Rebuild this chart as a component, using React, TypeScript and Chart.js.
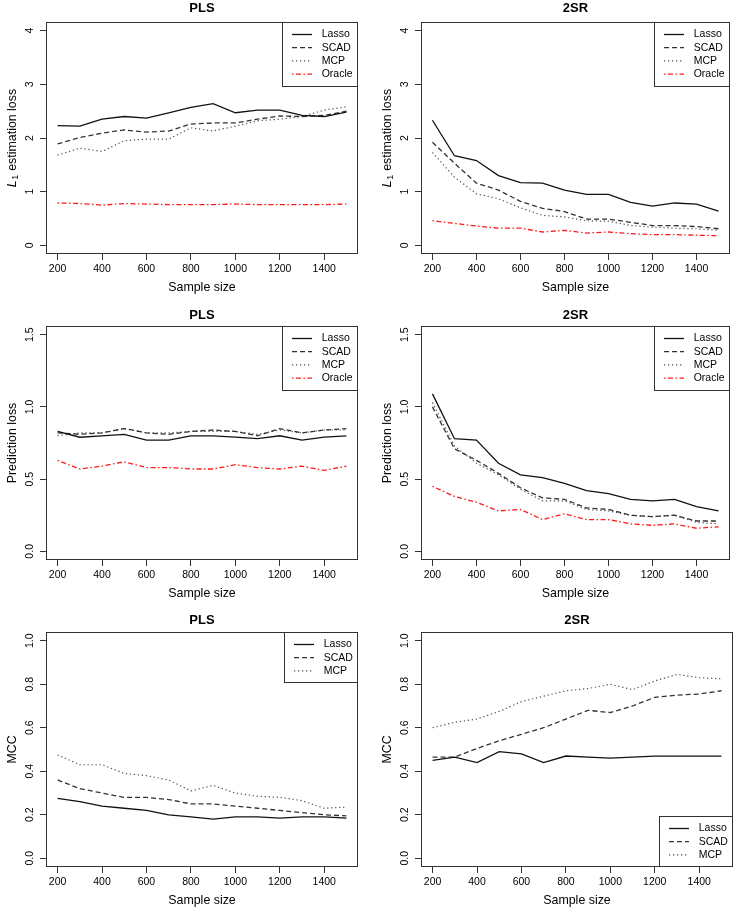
import React, { useEffect, useRef } from "react";
import { Chart, registerables } from "chart.js";
Chart.register(...registerables);

const FONT = "'Liberation Sans', Arial, Helvetica, sans-serif";

// ---------- data ----------
const sampleSizes = [200, 300, 400, 500, 600, 700, 800, 900, 1000, 1100, 1200, 1300, 1400, 1500];
const xLim = [200, 1500];
const xTickValues = [200, 400, 600, 800, 1000, 1200, 1400];
const xTickLabels = ["200", "400", "600", "800", "1000", "1200", "1400"];

const l1Lim = [0, 4];
const l1TickValues = [0, 1, 2, 3, 4];
const l1TickLabels = ["0", "1", "2", "3", "4"];
const predLim = [0, 1.5];
const predTickValues = [0, 0.5, 1.0, 1.5];
const predTickLabels = ["0.0", "0.5", "1.0", "1.5"];
const mccLim = [0, 1];
const mccTickValues = [0, 0.2, 0.4, 0.6, 0.8, 1.0];
const mccTickLabels = ["0.0", "0.2", "0.4", "0.6", "0.8", "1.0"];

const methodNames = ["Lasso", "SCAD", "MCP", "Oracle"];

// PLS, L1 estimation loss
const plsL1Lasso = [2.23, 2.22, 2.35, 2.40, 2.37, 2.47, 2.57, 2.64, 2.47, 2.52, 2.52, 2.42, 2.40, 2.48];
const plsL1Scad = [1.89, 2.01, 2.09, 2.15, 2.11, 2.13, 2.26, 2.28, 2.28, 2.35, 2.41, 2.40, 2.42, 2.50];
const plsL1Mcp = [1.68, 1.81, 1.75, 1.95, 1.98, 1.98, 2.19, 2.13, 2.22, 2.32, 2.35, 2.40, 2.52, 2.58];
const plsL1Oracle = [0.79, 0.78, 0.75, 0.78, 0.77, 0.76, 0.76, 0.76, 0.77, 0.76, 0.76, 0.76, 0.76, 0.77];

// 2SR, L1 estimation loss
const tsrL1Lasso = [2.33, 1.67, 1.58, 1.30, 1.17, 1.16, 1.03, 0.95, 0.95, 0.80, 0.73, 0.79, 0.77, 0.64];
const tsrL1Scad = [1.92, 1.53, 1.16, 1.03, 0.82, 0.69, 0.63, 0.49, 0.49, 0.43, 0.37, 0.37, 0.35, 0.31];
const tsrL1Mcp = [1.73, 1.27, 0.96, 0.87, 0.70, 0.56, 0.53, 0.46, 0.45, 0.37, 0.34, 0.32, 0.31, 0.28];
const tsrL1Oracle = [0.46, 0.41, 0.36, 0.32, 0.32, 0.25, 0.28, 0.23, 0.25, 0.22, 0.20, 0.20, 0.19, 0.18];

// PLS, prediction loss
const plsPredLasso = [0.83, 0.79, 0.80, 0.81, 0.77, 0.77, 0.80, 0.80, 0.79, 0.78, 0.80, 0.77, 0.79, 0.80];
const plsPredScad = [0.82, 0.81, 0.82, 0.85, 0.82, 0.81, 0.83, 0.84, 0.83, 0.80, 0.85, 0.82, 0.84, 0.85];
const plsPredMcp = [0.80, 0.82, 0.82, 0.85, 0.82, 0.82, 0.83, 0.83, 0.83, 0.81, 0.84, 0.82, 0.84, 0.84];
const plsPredOracle = [0.63, 0.57, 0.59, 0.62, 0.58, 0.58, 0.57, 0.57, 0.60, 0.58, 0.57, 0.59, 0.56, 0.59];

// 2SR, prediction loss
const tsrPredLasso = [1.09, 0.78, 0.77, 0.61, 0.53, 0.51, 0.47, 0.42, 0.40, 0.36, 0.35, 0.36, 0.31, 0.28];
const tsrPredScad = [1.00, 0.71, 0.63, 0.54, 0.44, 0.37, 0.36, 0.30, 0.29, 0.25, 0.24, 0.25, 0.21, 0.21];
const tsrPredMcp = [1.03, 0.73, 0.61, 0.53, 0.43, 0.35, 0.35, 0.29, 0.28, 0.25, 0.24, 0.25, 0.20, 0.19];
const tsrPredOracle = [0.45, 0.38, 0.34, 0.28, 0.29, 0.22, 0.26, 0.22, 0.22, 0.19, 0.18, 0.19, 0.16, 0.17];

// PLS, MCC
const plsMccLasso = [0.275, 0.26, 0.24, 0.23, 0.22, 0.20, 0.19, 0.18, 0.19, 0.19, 0.185, 0.19, 0.19, 0.185];
const plsMccScad = [0.36, 0.32, 0.30, 0.28, 0.28, 0.27, 0.25, 0.25, 0.24, 0.23, 0.22, 0.21, 0.20, 0.195];
const plsMccMcp = [0.475, 0.43, 0.43, 0.39, 0.38, 0.36, 0.31, 0.335, 0.30, 0.285, 0.28, 0.265, 0.23, 0.235];

// 2SR, MCC
const tsrMccLasso = [0.45, 0.465, 0.44, 0.49, 0.48, 0.44, 0.47, 0.465, 0.46, 0.465, 0.47, 0.47, 0.47, 0.47];
const tsrMccScad = [0.465, 0.465, 0.505, 0.54, 0.57, 0.60, 0.64, 0.68, 0.67, 0.70, 0.74, 0.75, 0.755, 0.77];
const tsrMccMcp = [0.60, 0.625, 0.64, 0.675, 0.72, 0.745, 0.77, 0.78, 0.80, 0.775, 0.815, 0.845, 0.83, 0.825];

// ---------- styles ----------
const seriesStyles = [
  { color: "#111111", dash: [] as number[], width: 1.3 },
  { color: "#333333", dash: [5, 3], width: 1.3 },
  { color: "#555555", dash: [1.3, 2.7], width: 1.2 },
  { color: "#ff1a1a", dash: [1.5, 2.5, 5, 2.5], width: 1.3 },
];

// ---------- layout geometry ----------
const colGeom = [
  { x: 0, w: 368, boxL: 46, boxR: 358 },
  { x: 368, w: 369, boxL: 421, boxR: 730 },
];
const rowGeom = [
  { y: 0, h: 300, boxT: 22, boxB: 254, titleY: 8.5 },
  { y: 300, h: 306, boxT: 326, boxB: 560, titleY: 315 },
  { y: 600, h: 309, boxT: 632, boxB: 867, titleY: 620 },
];

type PanelCfg = {
  key: string;
  title: string;
  yTitle: string;
  richL1: boolean;
  lim: number[];
  tickValues: number[];
  tickLabels: string[];
  series: number[][];
  legendPos: "topright" | "bottomright";
  col: number;
  row: number;
  boxROverride?: number;
};

const panels: PanelCfg[] = [
  { key: "a", title: "PLS", yTitle: "L1 estimation loss", richL1: true, lim: l1Lim, tickValues: l1TickValues, tickLabels: l1TickLabels,
    series: [plsL1Lasso, plsL1Scad, plsL1Mcp, plsL1Oracle], legendPos: "topright", col: 0, row: 0 },
  { key: "b", title: "2SR", yTitle: "L1 estimation loss", richL1: true, lim: l1Lim, tickValues: l1TickValues, tickLabels: l1TickLabels,
    series: [tsrL1Lasso, tsrL1Scad, tsrL1Mcp, tsrL1Oracle], legendPos: "topright", col: 1, row: 0 },
  { key: "c", title: "PLS", yTitle: "Prediction loss", richL1: false, lim: predLim, tickValues: predTickValues, tickLabels: predTickLabels,
    series: [plsPredLasso, plsPredScad, plsPredMcp, plsPredOracle], legendPos: "topright", col: 0, row: 1 },
  { key: "d", title: "2SR", yTitle: "Prediction loss", richL1: false, lim: predLim, tickValues: predTickValues, tickLabels: predTickLabels,
    series: [tsrPredLasso, tsrPredScad, tsrPredMcp, tsrPredOracle], legendPos: "topright", col: 1, row: 1 },
  { key: "e", title: "PLS", yTitle: "MCC", richL1: false, lim: mccLim, tickValues: mccTickValues, tickLabels: mccTickLabels,
    series: [plsMccLasso, plsMccScad, plsMccMcp], legendPos: "topright", col: 0, row: 2 },
  { key: "f", title: "2SR", yTitle: "MCC", richL1: false, lim: mccLim, tickValues: mccTickValues, tickLabels: mccTickLabels,
    series: [tsrMccLasso, tsrMccScad, tsrMccMcp], legendPos: "bottomright", col: 1, row: 2, boxROverride: 733 },
];

const TICK_SIZE = 10.5;
const LAB_SIZE = 12.4;
const TICK_LEN = 6;

function extend(lim: number[]) {
  const d = (lim[1] - lim[0]) * 0.04;
  return [lim[0] - d, lim[1] + d];
}

function labelFor(values: number[], labels: string[], v: number) {
  for (let i = 0; i < values.length; i++) if (Math.abs(values[i] - v) < 1e-9) return labels[i];
  return "";
}

const rPlugin = {
  id: "rdecor",
  afterDraw(chart: any, _args: any, o: any) {
    const { ctx, chartArea } = chart;
    const { left, top, right, bottom } = chartArea;
    const L = Math.round(left), T = Math.round(top), R = Math.round(right), B = Math.round(bottom);

    // plot box
    ctx.save();
    ctx.strokeStyle = "#333";
    ctx.lineWidth = 1;
    ctx.setLineDash([]);
    ctx.strokeRect(L + 0.5, T + 0.5, R - L - 1, B - T - 1);
    ctx.restore();

    // main title
    ctx.save();
    ctx.fillStyle = "#000";
    ctx.font = `bold 13px ${FONT}`;
    ctx.textAlign = "center";
    ctx.textBaseline = "middle";
    ctx.fillText(o.title, (left + right) / 2, o.titleY);
    ctx.restore();

    // rich y title: italic L with subscript 1
    if (o.richL1) {
      ctx.save();
      const main = `${LAB_SIZE}px ${FONT}`;
      const ital = `italic ${LAB_SIZE}px ${FONT}`;
      const sub = `9px ${FONT}`;
      const rest = o.yTitle.slice(2);
      ctx.font = ital;
      const wL = ctx.measureText("L").width;
      ctx.font = sub;
      const w1 = ctx.measureText("1").width;
      ctx.font = main;
      const wr = ctx.measureText(rest).width;
      const total = wL + w1 + 1 + wr;
      ctx.translate(o.yTitleX, (top + bottom) / 2);
      ctx.rotate(-Math.PI / 2);
      ctx.fillStyle = "#000";
      ctx.textAlign = "left";
      ctx.textBaseline = "middle";
      let x = -total / 2;
      ctx.font = ital;
      ctx.fillText("L", x, 0);
      x += wL + 0.5;
      ctx.font = sub;
      ctx.fillText("1", x, 3);
      x += w1 + 0.5;
      ctx.font = main;
      ctx.fillText(rest, x, 0);
      ctx.restore();
    }

    // legend
    ctx.save();
    const items = o.legendItems as { label: string; color: string; dash: number[]; width: number }[];
    ctx.font = `${TICK_SIZE}px ${FONT}`;
    const maxW = Math.max(...items.map((it) => ctx.measureText(it.label).width));
    const w = Math.round(10 + 20 + 9.7 + maxW + 5.4);
    const h = Math.round(2 * 5.9 + items.length * 13.2);
    const lx = R - w;
    const ly = o.legendPos === "topright" ? T : B - h;
    ctx.fillStyle = "#fff";
    ctx.fillRect(lx, ly, w, h);
    ctx.strokeStyle = "#333";
    ctx.lineWidth = 1;
    ctx.setLineDash([]);
    ctx.strokeRect(lx + 0.5, ly + 0.5, w - 1, h - 1);
    items.forEach((it, i) => {
      const cy = ly + 5.9 + 6.6 + i * 13.2;
      ctx.strokeStyle = it.color;
      ctx.lineWidth = it.width;
      ctx.setLineDash(it.dash);
      ctx.beginPath();
      ctx.moveTo(lx + 10, cy);
      ctx.lineTo(lx + 30, cy);
      ctx.stroke();
      ctx.fillStyle = "#000";
      ctx.textAlign = "left";
      ctx.textBaseline = "middle";
      ctx.fillText(it.label, lx + 39.7, cy);
    });
    ctx.restore();
  },
};

function Panel({ cfg }: { cfg: PanelCfg }) {
  const ref = useRef<HTMLCanvasElement>(null);
  const col = colGeom[cfg.col];
  const row = rowGeom[cfg.row];
  const boxR = cfg.boxROverride ?? col.boxR;

  useEffect(() => {
    const canvas = ref.current!;
    const m = document.createElement("canvas").getContext("2d")!;
    m.font = `${TICK_SIZE}px ${FONT}`;
    const widest = Math.max(...cfg.tickLabels.map((t) => m.measureText(t).width));
    const yPad = 15.5 - TICK_LEN - widest / 2;
    const [xMin, xMax] = extend(xLim);
    const [yMin, yMax] = extend(cfg.lim);
    const xAxisH = row.y + row.h - row.boxB;
    const xTitlePadBottom = xAxisH - 33.3 - (LAB_SIZE * 1.2) / 2;
    const yTitleCenter = col.boxL - 33 - col.x;
    const yTitlePadTop = yTitleCenter - (LAB_SIZE * 1.2) / 2;

    const datasets = cfg.series.map((vals, i) => ({
      label: methodNames[i],
      data: sampleSizes.map((x, j) => ({ x, y: vals[j] })),
      borderColor: seriesStyles[i].color,
      backgroundColor: seriesStyles[i].color,
      borderDash: seriesStyles[i].dash,
      borderWidth: seriesStyles[i].width,
      pointRadius: 0,
      tension: 0,
      fill: false,
    }));

    const chart = new Chart(canvas, {
      type: "line",
      data: { datasets },
      plugins: [rPlugin as any],
      options: {
        responsive: false,
        animation: false,
        devicePixelRatio: 1,
        layout: {
          padding: { left: 0, top: row.boxT - row.y, right: col.x + col.w - boxR, bottom: 0 },
        },
        plugins: {
          legend: { display: false },
          title: { display: false },
          tooltip: { enabled: false },
          rdecor: {
            title: cfg.title,
            titleY: row.titleY - row.y,
            richL1: cfg.richL1,
            yTitle: cfg.yTitle,
            yTitleX: yTitleCenter,
            legendPos: cfg.legendPos,
            legendItems: cfg.series.map((_, i) => ({ label: methodNames[i], ...seriesStyles[i] })),
          },
        } as any,
        scales: {
          x: {
            type: "linear",
            min: xMin,
            max: xMax,
            afterBuildTicks: (s: any) => {
              s.ticks = xTickValues.map((v) => ({ value: v }));
            },
            afterFit: (s: any) => {
              s.height = xAxisH;
            },
            grid: { drawOnChartArea: false, drawTicks: true, tickLength: TICK_LEN, color: "#333", lineWidth: 1 },
            border: { display: false },
            ticks: {
              autoSkip: false,
              maxRotation: 0,
              minRotation: 0,
              padding: 3,
              color: "#000",
              font: { family: FONT, size: TICK_SIZE },
              callback: (v: any) => labelFor(xTickValues, xTickLabels, Number(v)),
            },
            title: {
              display: true,
              text: "Sample size",
              color: "#000",
              font: { family: FONT, size: LAB_SIZE },
              padding: { top: 0, bottom: xTitlePadBottom },
            },
          },
          y: {
            type: "linear",
            min: yMin,
            max: yMax,
            afterBuildTicks: (s: any) => {
              s.ticks = cfg.tickValues.map((v) => ({ value: v }));
            },
            afterFit: (s: any) => {
              s.width = col.boxL - col.x;
            },
            grid: { drawOnChartArea: false, drawTicks: true, tickLength: TICK_LEN, color: "#333", lineWidth: 1 },
            border: { display: false },
            ticks: {
              autoSkip: false,
              minRotation: 90,
              maxRotation: 90,
              crossAlign: "center",
              padding: yPad,
              color: "#000",
              font: { family: FONT, size: TICK_SIZE },
              callback: (v: any) => labelFor(cfg.tickValues, cfg.tickLabels, Number(v)),
            },
            title: cfg.richL1
              ? { display: false }
              : {
                  display: true,
                  text: cfg.yTitle,
                  color: "#000",
                  font: { family: FONT, size: LAB_SIZE },
                  padding: { top: yTitlePadTop, bottom: 0 },
                },
          },
        } as any,
      },
    } as any);
    return () => chart.destroy();
  }, []);

  return (
    <canvas
      ref={ref}
      width={col.w}
      height={row.h}
      style={{ position: "absolute", left: col.x, top: row.y, width: col.w, height: row.h }}
    />
  );
}

export default function App() {
  return (
    <div style={{ position: "absolute", left: 0, top: 0, width: 737, height: 909, background: "#fff", overflow: "hidden" }}>
      {panels.map((p) => (
        <Panel key={p.key} cfg={p} />
      ))}
    </div>
  );
}
